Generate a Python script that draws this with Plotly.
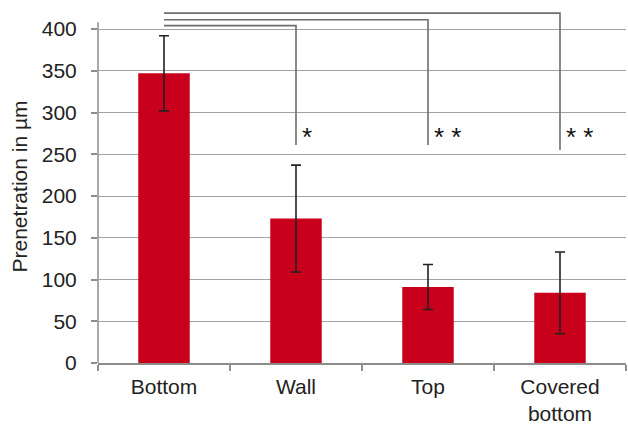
import plotly.graph_objects as go

# Mean penetration depth per surface, with standard deviation
categories = ["Bottom", "Wall", "Top", "Covered<br>bottom"]
means = [347, 173, 91, 84]
errors = [45, 64, 27, 49]

# Significance brackets: all comparisons start at "Bottom"
bracket_targets = ["Wall", "Top", "Covered<br>bottom"]
bracket_tops = [404, 411, 419]
bracket_bottoms = [261, 261, 255]
bracket_labels = ["*", "* *", "* *"]
star_level = 271

y_ticks = [0, 50, 100, 150, 200, 250, 300, 350, 400]
y_axis_top = 408

BAR_RED = "#C8001C"
GRID = "#a3a3a3"
AXIS = "#8c8c8c"
BRACKET = "#6e6e6e"
FONT = "Liberation Sans, Arial, sans-serif"
TEXT = "#222222"

fig = go.Figure()

fig.add_trace(go.Bar(
    x=categories,
    y=means,
    width=0.39,
    marker=dict(color=BAR_RED, line=dict(width=0)),
    error_y=dict(type="data", array=errors, visible=True,
                 color="#222222", thickness=1.6, width=5),
    hoverinfo="skip",
))

for target, top, bottom, label in zip(bracket_targets, bracket_tops,
                                      bracket_bottoms, bracket_labels):
    fig.add_trace(go.Scatter(
        x=[categories[0], target, target],
        y=[top, top, bottom],
        mode="lines",
        line=dict(color=BRACKET, width=1.6),
        hoverinfo="skip",
    ))
    fig.add_annotation(
        x=target, y=star_level, xref="x", yref="y",
        text=label, showarrow=False,
        xanchor="left", yanchor="middle", xshift=4,
        font=dict(family=FONT, size=26, color="#111111"),
    )

# vertical value axis line, stopping a little above the 400 grid line
fig.add_shape(type="line", xref="paper", yref="y",
              x0=0, x1=0, y0=0, y1=y_axis_top,
              line=dict(color=AXIS, width=1.5))

fig.update_layout(
    width=628, height=427,
    margin=dict(l=98, r=2, t=10, b=64),
    paper_bgcolor="white", plot_bgcolor="white",
    showlegend=False,
    font=dict(family=FONT, size=21, color=TEXT),
    xaxis=dict(
        showline=True, linecolor=AXIS, linewidth=1.5,
        ticks="outside", tickson="boundaries", ticklen=6,
        tickcolor=AXIS, tickwidth=1.5,
        tickfont=dict(size=21, color=TEXT),
        ticklabelstandoff=4,
        showgrid=False,
    ),
    yaxis=dict(
        range=[0, 422.75],
        tickvals=y_ticks,
        ticks="outside", ticklen=6, tickcolor=AXIS, tickwidth=1.5,
        showline=False,
        showgrid=True, gridcolor=GRID, gridwidth=1.2,
        zeroline=False,
        tickfont=dict(size=21, color=TEXT),
        ticklabelstandoff=10,
        title=dict(text="Prenetration in µm",
                   font=dict(size=21, color=TEXT), standoff=8),
    ),
)

fig.write_html("out.html")
